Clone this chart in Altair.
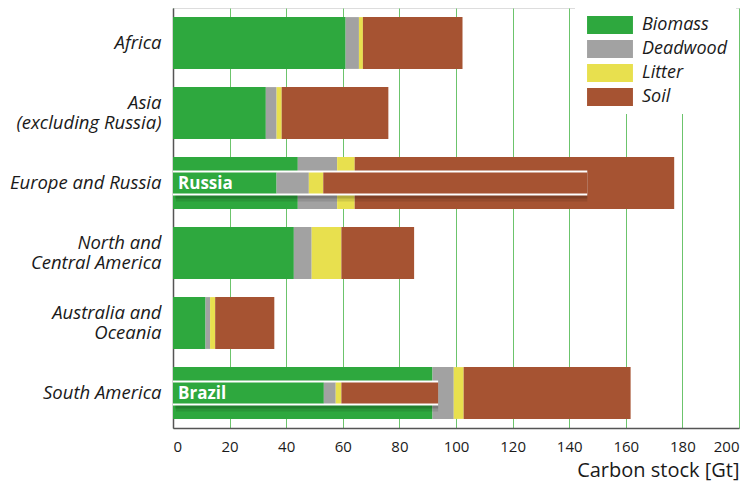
import altair as alt
import pandas as pd

regions = ["Africa", "Asia\n(excluding Russia)", "Europe and Russia",
           "North and\nCentral America", "Australia and\nOceania", "South America"]
pools = ["Biomass", "Deadwood", "Litter", "Soil"]
colors = ["#2ea83e", "#a2a2a2", "#e8e04e", "#a65332"]

biomass = [61.0, 32.8, 44.1, 42.7, 11.5, 91.7]
deadwood = [4.7, 3.8, 13.9, 6.3, 1.6, 7.5]
litter = [1.4, 1.8, 6.2, 10.5, 1.8, 3.5]
soil = [35.2, 37.7, 112.9, 25.7, 20.9, 59.0]

inset_names = ["Russia", "Brazil"]
inset_region = ["Europe and Russia", "South America"]
inset_biomass = [36.6, 53.3]
inset_deadwood = [11.4, 4.2]
inset_litter = [5.1, 2.0]
inset_soil = [93.3, 34.2]

rows = []
for i, r in enumerate(regions):
    for j, (p, v) in enumerate(zip(pools, [biomass[i], deadwood[i], litter[i], soil[i]])):
        rows.append({"region": r, "pool": p, "value": v, "order": j})
main_df = pd.DataFrame(rows)

irows = []
tot_rows = []
for i, r in enumerate(inset_region):
    vals = [inset_biomass[i], inset_deadwood[i], inset_litter[i], inset_soil[i]]
    for j, (p, v) in enumerate(zip(pools, vals)):
        irows.append({"region": r, "pool": p, "value": v, "order": j})
    tot_rows.append({"region": r, "name": inset_names[i], "start": 0, "total": sum(vals)})
inset_df = pd.DataFrame(irows)
tot_df = pd.DataFrame(tot_rows)

font = "Open Sans"

y_enc = alt.Y("region:N", sort=regions, title=None,
              scale=alt.Scale(paddingInner=0.26, paddingOuter=0.13),
              axis=alt.Axis(labelExpr="split(datum.label, '\\n')", labelFont=font,
                            labelFontStyle="italic", labelFontSize=18.5, labelColor="#1a1a1a",
                            labelLineHeight=20, ticks=False, labelPadding=12,
                            labelOffset={"condition": {"test": "indexof(datum.label, '\\n') >= 0",
                                                       "value": -10}, "value": 0},
                            domainColor="#555555", domainWidth=1.5, grid=False))
x_scale = alt.Scale(domain=[0, 200], nice=False)
x_axis = alt.Axis(values=list(range(0, 201, 20)), grid=True, gridColor="#6cc46c", gridWidth=1,
                  ticks=False, domainColor="#555555", domainWidth=1.5,
                  labelFont=font, labelFontSize=15, labelColor="#1a1a1a", labelPadding=11,
                  title="Carbon stock [Gt]", titleFont=font, titleFontSize=20,
                  titleFontWeight="normal", titleColor="#1a1a1a", titleAnchor="end",
                  titleAlign="right", titleX=566, titleY=42, titleBaseline="middle")

color_scale = alt.Scale(domain=pools, range=colors)

main = alt.Chart(main_df).mark_bar().encode(
    y=y_enc,
    x=alt.X("value:Q", stack="zero", scale=x_scale, axis=x_axis),
    color=alt.Color("pool:N", scale=color_scale, title=None,
                    legend=alt.Legend(orient="none", legendX=402, legendY=0,
                                      fillColor="white", padding=8,
                                      symbolType="M-2.55,-1H2.55V1H-2.55Z", symbolSize=324,
                                      symbolOffset=18,
                                      symbolStrokeWidth=0, symbolOpacity=1,
                                      labelFont=font, labelFontStyle="italic",
                                      labelFontSize=18, labelColor="#1a1a1a",
                                      labelOffset=23, rowPadding=6)),
    order=alt.Order("order:Q"),
)

shadow = alt.Chart(tot_df).mark_bar(color="black", opacity=0.10, xOffset=3, yOffset=3).encode(
    y=alt.Y("region:N", sort=regions),
    x=alt.X("start:Q"),
    x2=alt.X2("total:Q"),
    size=alt.value(31),
)
shadow2 = alt.Chart(tot_df).mark_bar(color="black", opacity=0.15, xOffset=2, yOffset=2).encode(
    y=alt.Y("region:N", sort=regions),
    x=alt.X("start:Q"),
    x2=alt.X2("total:Q"),
    size=alt.value(27),
)

frame = alt.Chart(tot_df).mark_bar(color="white").encode(
    y=alt.Y("region:N", sort=regions),
    x=alt.X("start:Q"),
    x2=alt.X2("total:Q"),
    size=alt.value(25),
)

inset = alt.Chart(inset_df).mark_bar().encode(
    y=alt.Y("region:N", sort=regions),
    x=alt.X("value:Q", stack="zero"),
    color=alt.Color("pool:N", scale=color_scale, legend=None),
    order=alt.Order("order:Q"),
    size=alt.value(21),
)

labels = alt.Chart(tot_df).mark_text(align="left", baseline="middle", dx=5, dy=1,
                                     font=font, fontWeight="bold", fontSize=17,
                                     color="white").encode(
    y=alt.Y("region:N", sort=regions),
    x=alt.X("start:Q"),
    text="name:N",
)

chart = alt.layer(main, shadow, shadow2, frame, inset, labels).properties(
    width=566, height=420,
    padding={"left": 165, "top": 0, "right": 6, "bottom": 56},
    autosize=alt.AutoSizeParams(type="none"),
).configure_view(stroke="#555555", strokeWidth=1.5).configure(background="white")

chart.save("out.html", embed_options={"renderer": "svg", "actions": False})
